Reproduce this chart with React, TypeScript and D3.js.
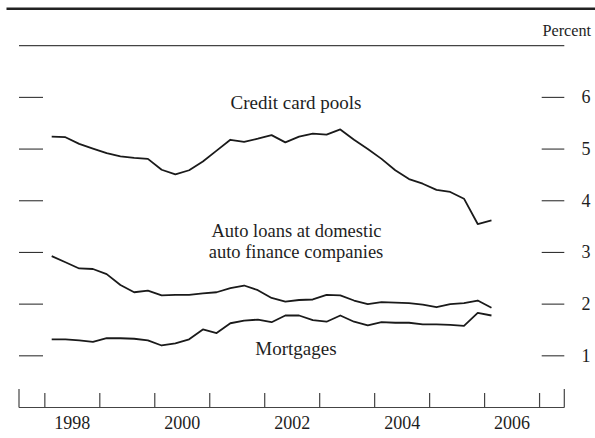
import React from "react";
import * as d3 from "d3";

const startYear = 1998;
const creditCard = [5.24, 5.23, 5.10, 5.01, 4.92, 4.86, 4.83, 4.81, 4.60, 4.51, 4.59, 4.76, 4.97, 5.18, 5.14, 5.20, 5.27, 5.13, 5.24, 5.30, 5.28, 5.38, 5.18, 5.00, 4.81, 4.59, 4.42, 4.33, 4.21, 4.17, 4.04, 3.55, 3.62];
const autoLoans = [2.93, 2.81, 2.69, 2.68, 2.58, 2.37, 2.23, 2.26, 2.17, 2.18, 2.18, 2.21, 2.23, 2.31, 2.36, 2.27, 2.12, 2.05, 2.08, 2.09, 2.18, 2.17, 2.07, 2.00, 2.04, 2.03, 2.02, 1.99, 1.94, 2.00, 2.02, 2.07, 1.93];
const mortgages = [1.32, 1.32, 1.30, 1.27, 1.34, 1.34, 1.33, 1.30, 1.20, 1.24, 1.32, 1.51, 1.44, 1.63, 1.68, 1.70, 1.65, 1.78, 1.78, 1.69, 1.66, 1.78, 1.66, 1.59, 1.65, 1.64, 1.64, 1.61, 1.61, 1.60, 1.58, 1.83, 1.78];
const yTicks = [1, 2, 3, 4, 5, 6];
const yearTicks = [1998, 1999, 2000, 2001, 2002, 2003, 2004, 2005, 2006, 2007];
const yearLabels = [1998, 2000, 2002, 2004, 2006];

const FONT = '"Liberation Serif", "Times New Roman", Times, "DejaVu Serif", serif';

export default function App() {
  const left = 19;
  const right = 564.3;
  const x = d3.scaleLinear().domain([1997.53, 2007.45]).range([left, right]);
  const y = d3.scaleLinear().domain([0, 7]).range([407.5, 45.7]);
  const base = y(0);

  const line = d3
    .line<number>()
    .x((_, i) => x(startYear + i / 4 + 0.125))
    .y((v) => y(v));

  const series = [creditCard, autoLoans, mortgages];
  const txt = "#1e1e1e";
  const ts = (size: number): React.CSSProperties => ({ fontFamily: FONT, fontSize: size + "px" });

  return (
    <svg
      width={595}
      height={438}
      style={{ position: "absolute", left: 0, top: 0, background: "#fff", fontFamily: FONT }}
    >
      <rect width={595} height={438} fill="#fff" />
      <line x1={6.5} x2={595} y1={8.8} y2={8.8} stroke="#222" strokeWidth={2.6} />
      <line x1={left} x2={right} y1={y(7)} y2={y(7)} stroke="#444" strokeWidth={1.2} />
      <text x={591} y={36} textAnchor="end" style={ts(16.2)} fill={txt}>
        Percent
      </text>

      {yTicks.map((t) => (
        <g key={t}>
          <line x1={left} x2={43} y1={y(t)} y2={y(t)} stroke="#333" strokeWidth={1.1} />
          <line x1={541.7} x2={right} y1={y(t)} y2={y(t)} stroke="#333" strokeWidth={1.1} />
          <text x={586} y={y(t) + 6} textAnchor="middle" style={ts(18)} fill={txt}>
            {t}
          </text>
        </g>
      ))}

      <line x1={left} x2={right} y1={base} y2={base} stroke="#444" strokeWidth={1.2} />
      <line x1={left} x2={left} y1={389} y2={base} stroke="#444" strokeWidth={1.2} />
      <line x1={right} x2={right} y1={389} y2={base} stroke="#444" strokeWidth={1.2} />
      {yearTicks.map((yr) => (
        <line key={yr} x1={x(yr)} x2={x(yr)} y1={393} y2={base} stroke="#444" strokeWidth={1.2} />
      ))}
      {yearLabels.map((yr) => (
        <text key={yr} x={x(yr + 0.5)} y={429} textAnchor="middle" style={ts(18)} fill={txt}>
          {yr}
        </text>
      ))}

      {series.map((s, k) => (
        <path key={k} d={line(s) || ""} fill="none" stroke="#1a1a1a" strokeWidth={1.8} strokeLinejoin="round" />
      ))}

      <text x={296} y={109} textAnchor="middle" style={ts(19)} fill={txt}>
        Credit card pools
      </text>
      <text x={296.5} y={237.3} textAnchor="middle" style={ts(18.5)} fill={txt}>
        Auto loans at domestic
      </text>
      <text x={296} y={257.9} textAnchor="middle" style={ts(18.5)} fill={txt}>
        auto finance companies
      </text>
      <text x={296} y={355} textAnchor="middle" style={ts(19)} fill={txt}>
        Mortgages
      </text>
    </svg>
  );
}
